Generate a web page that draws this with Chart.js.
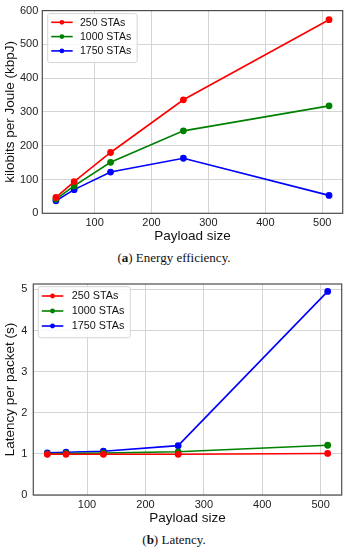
<!DOCTYPE html>
<html>
<head>
<meta charset="utf-8">
<script src="https://cdn.jsdelivr.net/npm/chart.js@4"></script>
<style>
  body { margin: 0; background: #fff; width: 348px; height: 550px; position: relative; overflow: hidden; }
  .box { position: absolute; left: 0; width: 348px; }
  .cap { position: absolute; left: 0; width: 348px; text-align: center; font-family: "Liberation Serif", serif; font-size: 13px; color: #111; }
</style>
</head>
<body>
<div class="box" style="top:0;height:250px"><canvas id="energyChart"></canvas></div>
<div class="cap" style="top:250px">(<b>a</b>) Energy efficiency.</div>
<div class="box" style="top:270px;height:256px"><canvas id="latencyChart"></canvas></div>
<div class="cap" style="top:532px">(<b>b</b>) Latency.</div>
<script>
const payload = [32, 64, 128, 256, 512];
const seriesNames = ['250 STAs', '1000 STAs', '1750 STAs'];
const seriesColors = ['#ff0000', '#008000', '#0000ff'];

// energy efficiency (kbpJ)
const energy250 = [47, 94, 180, 336, 573];
const energy1000 = [42, 81, 151, 244, 318];
const energy1750 = [37, 70, 122, 163, 53];

// latency per packet (s)
const latency250 = [0.99, 0.99, 0.99, 0.99, 1.01];
const latency1000 = [1.0, 1.01, 1.02, 1.05, 1.21];
const latency1750 = [1.025, 1.04, 1.065, 1.2, 4.95];

const xTicks = [100, 200, 300, 400, 500];

function makeData(lists) {
    return {
        datasets: lists.map((vals, i) => ({
            label: seriesNames[i],
            data: vals.map((v, k) => ({ x: payload[k], y: v })),
            borderColor: seriesColors[i],
            backgroundColor: seriesColors[i],
            borderWidth: 1.6,
            pointRadius: 2.6,
            pointHoverRadius: 2.6,
            tension: 0
        }))
    };
}

// frame + legend inside the plot
const framePlugin = {
    id: 'frameLegend',
    afterDraw(chart, args, opts) {
        const ctx = chart.ctx;
        const a = chart.chartArea;
        ctx.save();
        ctx.strokeStyle = '#4d4d4d';
        ctx.lineWidth = 1.2;
        ctx.strokeRect(a.left, a.top, a.right - a.left, a.bottom - a.top);

        ctx.font = opts.fontSize + 'px "Liberation Sans", Arial, sans-serif';
        let maxW = 0;
        chart.data.datasets.forEach(d => { maxW = Math.max(maxW, ctx.measureText(d.label).width); });
        const bx = a.left + opts.dx, by = a.top + opts.dy;
        const bw = 32 + maxW + 6 + (opts.textX - 32);
        const bh = opts.row * 3 + 6;
        ctx.fillStyle = 'rgba(255,255,255,0.85)';
        ctx.strokeStyle = '#d6d6d6';
        ctx.lineWidth = 1;
        ctx.beginPath();
        ctx.roundRect(bx, by, bw, bh, 2);
        ctx.fill();
        ctx.stroke();

        chart.data.datasets.forEach((d, i) => {
            const y = by + opts.first + i * opts.row;
            ctx.strokeStyle = d.borderColor;
            ctx.lineWidth = 1.6;
            ctx.beginPath();
            ctx.moveTo(bx + 3.5, y);
            ctx.lineTo(bx + 25, y);
            ctx.stroke();
            ctx.fillStyle = d.borderColor;
            ctx.beginPath();
            ctx.arc(bx + 14.2, y, 2.4, 0, Math.PI * 2);
            ctx.fill();
            ctx.fillStyle = '#111';
            ctx.textBaseline = 'middle';
            ctx.fillText(d.label, bx + opts.textX, y + 0.5);
        });
        ctx.restore();
    }
};

function makeOptions(cfg) {
    const font = { family: '"Liberation Sans", Arial, sans-serif' };
    return {
        responsive: true,
        maintainAspectRatio: false,
        animation: false,
        events: [],
        layout: { padding: { top: cfg.padTop, right: cfg.padRight, left: 0, bottom: 0 } },
        plugins: {
            legend: { display: false },
            tooltip: { enabled: false },
            frameLegend: cfg.legend
        },
        scales: {
            x: {
                type: 'linear',
                min: 8,
                max: 536,
                afterBuildTicks: s => { s.ticks = xTicks.map(v => ({ value: v })); },
                afterFit: s => { s.height = cfg.xHeight; },
                grid: { color: '#d4d4d4', lineWidth: 1, drawTicks: false },
                border: { display: false },
                ticks: { padding: 3, color: '#222', font: { ...font, size: 11 }, maxRotation: 0 },
                title: { display: true, text: 'Payload size', color: '#111', font: { ...font, size: 13.5 }, padding: { top: 0, bottom: cfg.xTitlePad } }
            },
            y: {
                min: cfg.yMin,
                max: cfg.yMax,
                afterBuildTicks: s => { s.ticks = cfg.yTicks.map(v => ({ value: v })); },
                afterFit: s => { s.width = cfg.yWidth; },
                grid: { color: '#d4d4d4', lineWidth: 1, drawTicks: false },
                border: { display: false },
                ticks: { padding: cfg.yPad, color: '#222', font: { ...font, size: 11 } },
                title: { display: true, text: cfg.yTitle, color: '#111', font: { ...font, size: 13.5 }, padding: { top: 2, bottom: 0 } }
            }
        }
    };
}

new Chart(document.getElementById('energyChart'), {
    type: 'line',
    data: makeData([energy250, energy1000, energy1750]),
    options: makeOptions({
        padTop: 9.3, padRight: 5.3, xHeight: 36.7, yWidth: 42.3, yPad: 4, xTitlePad: 6,
        yMin: 0, yMax: 600, yTicks: [0, 100, 200, 300, 400, 500, 600],
        yTitle: 'kilobits per Joule (kbpJ)',
        legend: { dx: 5.4, dy: 3, first: 8.7, row: 14.3, fontSize: 10.5, textX: 32.3 }
    }),
    plugins: [framePlugin]
});

new Chart(document.getElementById('latencyChart'), {
    type: 'line',
    data: makeData([latency250, latency1000, latency1750]),
    options: makeOptions({
        padTop: 14, padRight: 6.3, xHeight: 31, yWidth: 33.3, yPad: 6, xTitlePad: 0,
        yMin: 0, yMax: 5.13, yTicks: [0, 1, 2, 3, 4, 5],
        yTitle: 'Latency per packet (s)',
        legend: { dx: 5, dy: 2.7, first: 9.3, row: 15, fontSize: 10.8, textX: 33.4 }
    }),
    plugins: [framePlugin]
});
</script>
</body>
</html>
